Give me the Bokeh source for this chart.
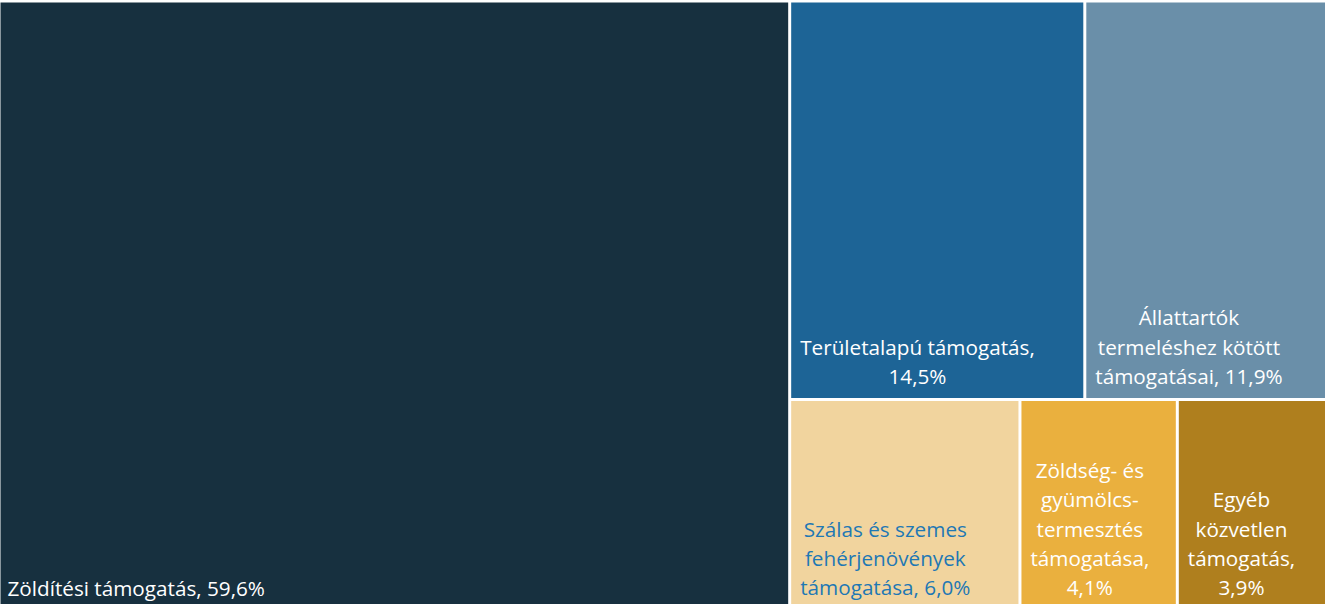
from bokeh.plotting import figure
from bokeh.models import ColumnDataSource, Range1d
from bokeh.core.properties import value
from bokeh.embed import file_html
from bokeh.resources import INLINE

# ---- data ----
categories = [
    "Zöldítési támogatás",
    "Területalapú támogatás",
    "Állattartók termeléshez kötött támogatásai",
    "Szálas és szemes fehérjenövények támogatása",
    "Zöldség- és gyümölcstermesztés támogatása",
    "Egyéb közvetlen támogatás",
]
shares = [59.6, 14.5, 11.9, 6.0, 4.1, 3.9]
labels = [
    "Zöldítési támogatás, 59,6%",
    "Területalapú támogatás,\n14,5%",
    "Állattartók\ntermeléshez kötött\ntámogatásai, 11,9%",
    "Szálas és szemes\nfehérjenövények\ntámogatása, 6,0%",
    "Zöldség- és\ngyümölcs-\ntermesztés\ntámogatása,\n4,1%",
    "Egyéb\nközvetlen\ntámogatás,\n3,9%",
]
colors = ["#17303F", "#1D6496", "#6A8FA9", "#F1D49E", "#EAB03E", "#AF7F1E"]
label_colors = ["#FFFFFF", "#FFFFFF", "#FFFFFF", "#1F78B4", "#FFFFFF", "#FFFFFF"]


# ---- squarified treemap layout ----
def worst(row, w):
    s = sum(row)
    return max(max(w * w * r / (s * s), s * s / (w * w * r)) for r in row)


def squarify(areas, x, y, dx, dy):
    rects = []
    areas = list(areas)
    while areas:
        w = min(dx, dy)
        row = [areas[0]]
        i = 1
        while i < len(areas) and worst(row + [areas[i]], w) <= worst(row, w):
            row.append(areas[i])
            i += 1
        areas = areas[i:]
        s = sum(row)
        if dx >= dy:
            cw = s / dy
            cy = y + dy
            for r in row:
                h = r / cw
                rects.append((x, x + cw, cy - h, cy))
                cy -= h
            x += cw
            dx -= cw
        else:
            rh = s / dx
            cx = x
            for r in row:
                ww = r / rh
                rects.append((cx, cx + ww, y + dy - rh, y + dy))
                cx += ww
            dy -= rh
    return rects


W, H = 1325, 604
X0, Y0, DX, DY = -3.5, -6.5, 1330, 610
total = sum(shares)
areas = [v / total * DX * DY for v in shares]
rects = squarify(areas, X0, Y0, DX, DY)

gap = 1.5
left = [r[0] + gap for r in rects]
right = [r[1] - gap for r in rects]
bottom = [r[2] + gap for r in rects]
top = [r[3] - gap for r in rects]
lx = [l + 9 for l in left]
ly = [b + 8 for b in bottom]

src = ColumnDataSource(dict(cat=categories, share=shares, label=labels,
                            color=colors, tcolor=label_colors,
                            left=left, right=right, bottom=bottom, top=top,
                            lx=lx, ly=ly))

p = figure(width=W, height=H, output_backend="svg", toolbar_location=None,
           x_range=Range1d(0, W), y_range=Range1d(0, H), min_border=0)
p.axis.visible = False
p.grid.visible = False
p.outline_line_color = None
p.background_fill_color = "white"
p.border_fill_color = "white"

p.quad(left="left", right="right", bottom="bottom", top="top",
       fill_color="color", line_color=None, source=src)
p.text(x="lx", y="ly", text="label", source=src,
       anchor=value("bottom_left"), text_align="center",
       text_font=value("Open Sans"), text_font_size="20.7px",
       text_line_height=1.05, text_color="tcolor")

open("out.html", "w").write(file_html(p, INLINE))
